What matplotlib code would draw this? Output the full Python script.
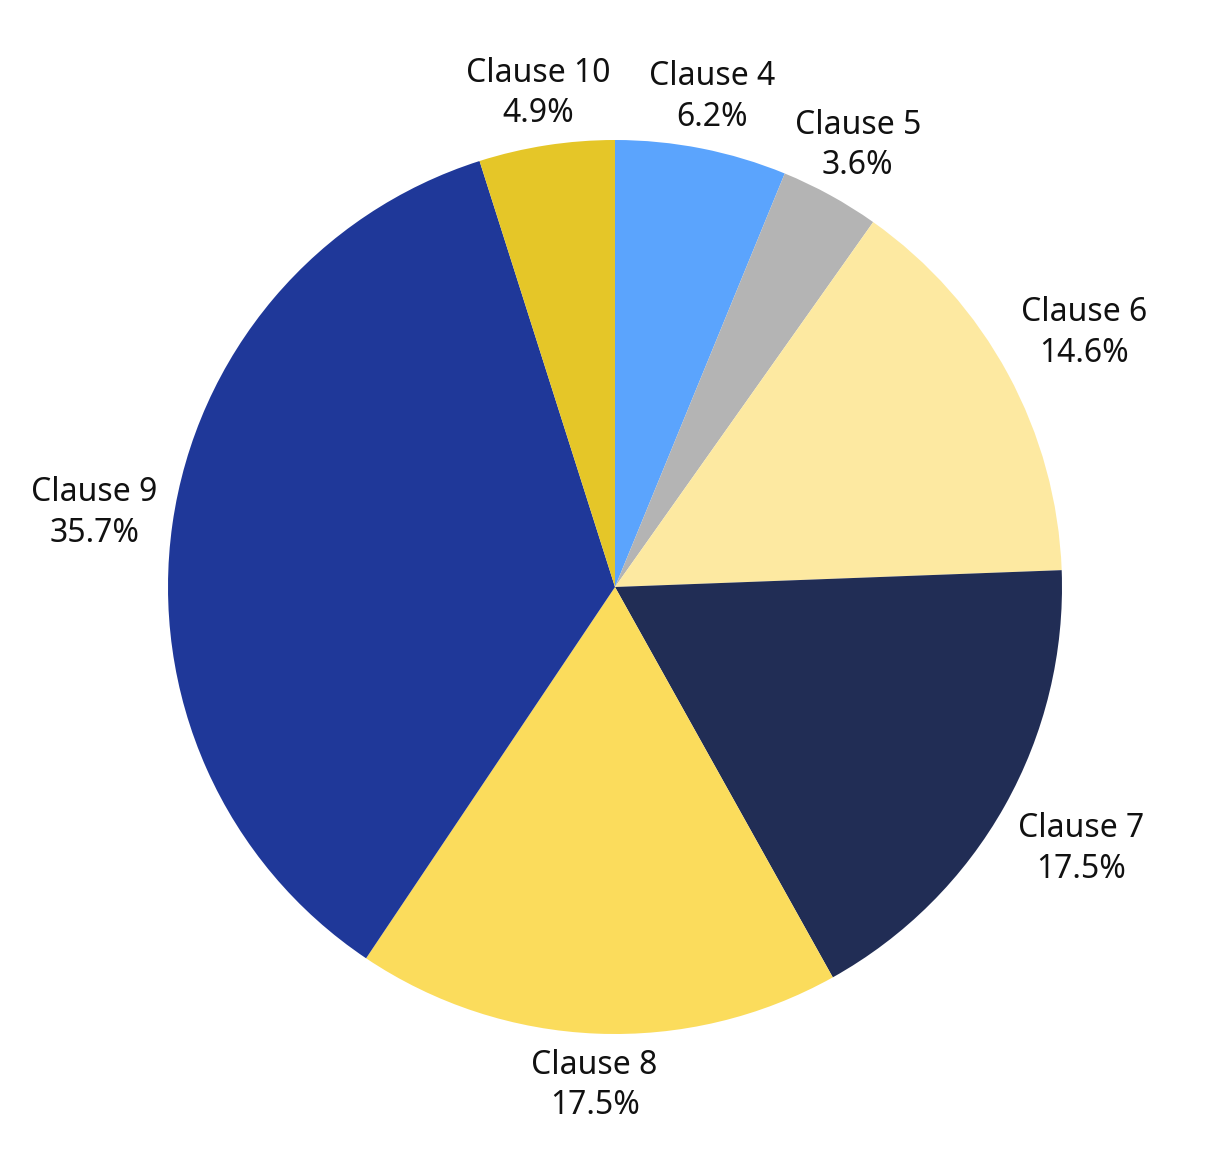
import numpy as np
import matplotlib
matplotlib.use("Agg")
import matplotlib.pyplot as plt

labels = ["Clause 4", "Clause 5", "Clause 6", "Clause 7", "Clause 8", "Clause 9", "Clause 10"]
values = [6.2, 3.6, 14.6, 17.5, 17.5, 35.7, 4.9]
colors = ["#5BA4FD", "#B4B4B4", "#FDE9A1", "#212D55", "#FBDC5C", "#1F3899", "#E5C628"]

W, H = 1209, 1161
fig = plt.figure(figsize=(W / 100, H / 100), dpi=100)
ax = fig.add_axes([0, 0, 1, 1])
ax.set_xlim(0, W)
ax.set_ylim(0, H)
ax.set_aspect("equal")
ax.axis("off")

cx, cy, R = 615, H - 587, 447
wedges, _ = ax.pie(values, colors=colors, startangle=90, counterclock=False,
                   center=(cx, cy), radius=R, frame=True,
                   wedgeprops=dict(edgecolor="none", linewidth=0))
ax.set_xlim(0, W)
ax.set_ylim(0, H)
ax.axis("off")

fig.canvas.draw()
renderer = fig.canvas.get_renderer()
gap = 15
for w, lab, v in zip(wedges, labels, values):
    ang = np.deg2rad((w.theta1 + w.theta2) / 2)
    dx, dy = np.cos(ang), np.sin(ang)
    t = ax.text(cx, cy, f"{lab}\n{v:.1f}%", ha="center", va="center",
                fontsize=23, family="Noto Sans", color="#111111", linespacing=1.3)
    bb = t.get_window_extent(renderer)
    hw, hh = bb.width / 2, bb.height / 2
    d = min(hw / abs(dx) if abs(dx) > 1e-6 else 1e9, hh / abs(dy) if abs(dy) > 1e-6 else 1e9)
    dist = R + gap + d
    t.set_position((cx + dist * dx, cy + dist * dy))

fig.savefig("out.png", dpi=100, facecolor="white")
